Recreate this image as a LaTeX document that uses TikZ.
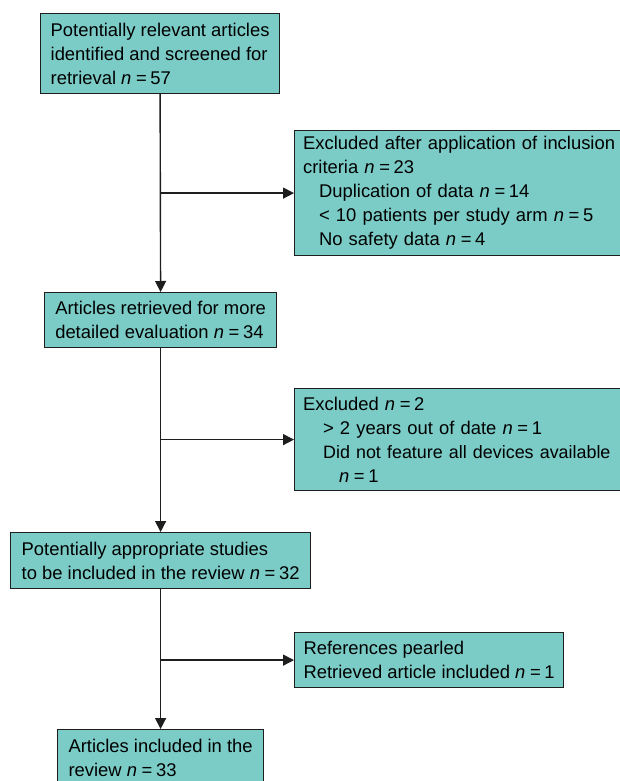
\documentclass[tikz,border=0pt]{standalone}
\usepackage{fontspec}
\setmainfont{Liberation Sans}
\usetikzlibrary{arrows.meta}
\definecolor{boxfill}{RGB}{123,204,199}
\definecolor{edge}{RGB}{30,30,30}
\newcommand\nn{\textit{n}\hspace{0.25em}=\hspace{0.2em}}
\begin{document}
\begin{tikzpicture}[x=1pt,y=-1pt,
  box/.style={draw=edge,line width=1.2pt,fill=boxfill,anchor=north west,
    inner xsep=8.5pt,inner ysep=0pt,align=left,
    font=\fontsize{18.4}{24}\selectfont,text=black},
  conn/.style={draw=edge,line width=1.4pt},
  arr/.style={conn,-{Triangle[length=11pt,width=11pt]}}]
\useasboundingbox (0,0) rectangle (620,781);
\clip (0,0) rectangle (620,781);
\fill[white] (0,0) rectangle (620,781);
\node[box,minimum width=239pt,minimum height=80pt] (b1) at (40,13)
  {Potentially relevant articles\\identified and screened for\\retrieval \nn 57};
\node[box,text width=400pt,minimum height=125pt] (b2) at (294,130)
  {Excluded after application of inclusion\\criteria \nn 23\\
   \hspace*{16pt}Duplication of data \nn 14\\
   \hspace*{16pt}< 10 patients per study arm \nn 5\\
   \hspace*{16pt}No safety data \nn 4};
\node[box,minimum width=232pt,minimum height=55pt] (b3) at (44,292)
  {Articles retrieved for more\\detailed evaluation \nn 34};
\node[box,text width=400pt,minimum height=102pt] (b4) at (294,388)
  {Excluded \nn 2\\
   \hspace*{20pt}> 2 years out of date \nn 1\\
   \hspace*{20pt}{\fontsize{17.9}{24}\selectfont Did not feature all devices available}\\
   \hspace*{36pt}\nn 1};
\node[box,minimum width=300pt,minimum height=56pt] (b5) at (10,532)
  {Potentially appropriate studies\\to be included in the review \nn 32};
\node[box,minimum width=269pt,minimum height=55pt] (b6) at (294,632)
  {References pearled\\Retrieved article included \nn 1};
\node[box,minimum width=206pt,minimum height=57pt] (b7) at (57,729)
  {Articles included in the\\review \nn 33};
\draw[arr] (b1.south) -- (b3.north);
\draw[arr] (b3.south) -- (b5.north);
\draw[arr] (b5.south) -- (b7.north);
\draw[arr] (b1.south |- b2.west) -- (b2.west);
\draw[arr] (b3.south |- b4.west) -- (b4.west);
\draw[arr] (b5.south |- b6.west) -- (b6.west);
\end{tikzpicture}
\end{document}
